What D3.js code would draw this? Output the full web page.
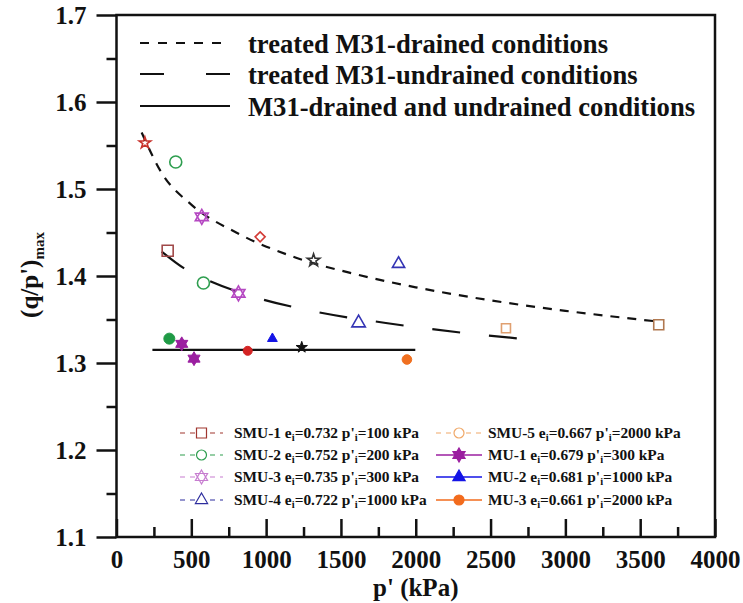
<!DOCTYPE html>
<html>
<head>
<meta charset="utf-8">
<script src="https://cdn.jsdelivr.net/npm/d3@7"></script>
<style>
  body { margin: 0; background: #fff; }
  svg text { font-family: "Liberation Serif", "Times New Roman", serif; font-weight: bold; fill: #111; }
</style>
</head>
<body>
<div id="chart"></div>
<script>
// values
var xTicks = [0, 500, 1000, 1500, 2000, 2500, 3000, 3500, 4000];
var yTicks = [1.1, 1.2, 1.3, 1.4, 1.5, 1.6, 1.7];

// treated M31 drained points
var drainedP = [190, 396, 570, 960, 1317, 1885, 3624];
var drainedQ = [1.553, 1.531, 1.468, 1.445, 1.418, 1.414, 1.344];
// treated M31 undrained points
var undrainedP = [342, 581, 815, 1618, 2603];
var undrainedQ = [1.429, 1.392, 1.380, 1.346, 1.340];
// untreated M31 points
var muP = [353, 436, 518, 877, 1042, 1238, 1941];
var muQ = [1.328, 1.322, 1.305, 1.314, 1.328, 1.318, 1.304];

// fitted lines
var drainedFitP = [168, 300, 500, 800, 1200, 1600, 2000, 2500, 3000, 3600];
var drainedFitQ = [1.565, 1.519, 1.482, 1.450, 1.421, 1.402, 1.387, 1.372, 1.360, 1.348];
var undrainedFitP = [302, 450, 600, 900, 1300, 1800, 2300, 2700];
var undrainedFitQ = [1.428, 1.409, 1.396, 1.377, 1.360, 1.346, 1.335, 1.328];
var baseFitP = [240, 1997];
var baseFitQ = [1.315, 1.315];

var fitLabels = ["treated M31-drained conditions", "treated M31-undrained conditions", "M31-drained and undrained conditions"];

var seriesNames = ["SMU-1", "SMU-2", "SMU-3", "SMU-4", "SMU-5", "MU-1", "MU-2", "MU-3"];
var seriesE = ["0.732", "0.752", "0.735", "0.722", "0.667", "0.679", "0.681", "0.661"];
var seriesPi = ["100", "200", "300", "1000", "2000", "300", "1000", "2000"];

// marker styles (kept apart from the values)
var drainedMarks = [
  { s: "star", c: "#c8322c", r: 5, fill: false },
  { s: "circle", c: "#2e9e4f", r: 6, fill: false },
  { s: "hex", c: "#b548c2", r: 7.5, fill: false },
  { s: "diamond", c: "#d33b36", r: 5, fill: false },
  { s: "star", c: "#333", r: 5.5, fill: false },
  { s: "triangle", c: "#3434b4", r: 5, fill: false },
  { s: "square", c: "#b07850", r: 5, fill: false }
];
var undrainedMarks = [
  { s: "square", c: "#a04848", r: 5.5, fill: false },
  { s: "circle", c: "#2e9e4f", r: 6, fill: false },
  { s: "hex", c: "#b548c2", r: 7.5, fill: false },
  { s: "triangle", c: "#3434b4", r: 5.5, fill: false },
  { s: "square", c: "#e0a070", r: 4.5, fill: false }
];
var muMarks = [
  { s: "circle", c: "#1f9a45", r: 5.5, fill: true },
  { s: "hex", c: "#9b1fa0", r: 7, fill: true },
  { s: "hex", c: "#9b1fa0", r: 7, fill: true },
  { s: "circle", c: "#d42424", r: 4.5, fill: true },
  { s: "triangle", c: "#1414e6", r: 4, fill: true },
  { s: "star", c: "#111", r: 5, fill: true },
  { s: "circle", c: "#f07020", r: 4.8, fill: true }
];
var legendMarks = [
  { s: "square", c: "#a0362f", dash: true, fill: false },
  { s: "circle", c: "#2e9e4f", dash: true, fill: false },
  { s: "hex", c: "#c77dd0", dash: true, fill: false },
  { s: "triangle", c: "#2d2d9e", dash: true, fill: false },
  { s: "circle", c: "#f0a868", dash: true, fill: false },
  { s: "hex", c: "#9b1fa0", dash: false, fill: true },
  { s: "triangle", c: "#1414e6", dash: false, fill: true },
  { s: "circle", c: "#f26b1d", dash: false, fill: true }
];

var svgWidth = 743, svgHeight = 603;
var plot = { left: 116.5, right: 715, top: 15, bottom: 537 };

var svg = d3.select("#chart").append("svg")
  .attr("width", svgWidth)
  .attr("height", svgHeight);

var xScale = d3.scaleLinear().domain([0, 4000]).range([plot.left, plot.right]);
var yScale = d3.scaleLinear().domain([1.1, 1.7]).range([plot.bottom, plot.top]);

// minor ticks
svg.append("g")
  .attr("transform", "translate(0," + plot.bottom + ")")
  .call(d3.axisBottom(xScale).tickValues(d3.range(250, 4000, 500)).tickSize(-10).tickFormat(""))
  .call(function(g) { g.select(".domain").remove(); g.selectAll("line").attr("stroke", "#111").attr("stroke-width", 2.5); });
svg.append("g")
  .attr("transform", "translate(" + plot.left + ",0)")
  .call(d3.axisLeft(yScale).tickValues([1.15, 1.25, 1.35, 1.45, 1.55, 1.65]).tickSize(10).tickFormat(""))
  .call(function(g) { g.select(".domain").remove(); g.selectAll("line").attr("stroke", "#111").attr("stroke-width", 2.5); });

// major ticks
var xAxisG = svg.append("g")
  .attr("transform", "translate(0," + plot.bottom + ")")
  .call(d3.axisBottom(xScale).tickValues(xTicks).tickSizeInner(-18).tickSizeOuter(0).tickPadding(13).tickFormat(d3.format("d")));
xAxisG.select(".domain").remove();
xAxisG.selectAll("line").attr("stroke", "#111").attr("stroke-width", 2.5);
xAxisG.selectAll("text").attr("font-size", 25).attr("fill", "#111");

var yAxisG = svg.append("g")
  .attr("transform", "translate(" + plot.left + ",0)")
  .call(d3.axisLeft(yScale).tickValues(yTicks).tickSizeInner(20).tickSizeOuter(0).tickPadding(10).tickFormat(d3.format(".1f")));
yAxisG.select(".domain").remove();
yAxisG.selectAll("line").attr("stroke", "#111").attr("stroke-width", 2.5);
yAxisG.selectAll("text").attr("font-size", 25).attr("fill", "#111");
svg.selectAll(".tick text").style("font-family", "Liberation Serif").style("font-weight", "bold");

// frame
svg.append("rect")
  .attr("x", plot.left).attr("y", plot.top)
  .attr("width", plot.right - plot.left).attr("height", plot.bottom - plot.top)
  .attr("fill", "none").attr("stroke", "#111").attr("stroke-width", 2.5);

// axis titles
svg.append("text")
  .attr("x", (plot.left + plot.right) / 2)
  .attr("y", 596)
  .attr("text-anchor", "middle")
  .attr("font-size", 25)
  .text("p' (kPa)");

var yTitle = svg.append("text")
  .attr("transform", "translate(38,275) rotate(-90)")
  .attr("text-anchor", "middle")
  .attr("font-size", 25);
yTitle.append("tspan").text("(q/p')");
yTitle.append("tspan").attr("font-size", 15).attr("dy", 6).text("max");

// fitted lines
var line = d3.line()
  .x(function(d) { return xScale(d[0]); })
  .y(function(d) { return yScale(d[1]); })
  .curve(d3.curveMonotoneX);

svg.append("path")
  .datum(d3.zip(drainedFitP, drainedFitQ))
  .attr("d", line)
  .attr("fill", "none").attr("stroke", "#111").attr("stroke-width", 2.2)
  .attr("stroke-dasharray", "9,8");
svg.append("path")
  .datum(d3.zip(undrainedFitP, undrainedFitQ))
  .attr("d", line)
  .attr("fill", "none").attr("stroke", "#111").attr("stroke-width", 2.2)
  .attr("stroke-dasharray", "28,29");
svg.append("path")
  .datum(d3.zip(baseFitP, baseFitQ))
  .attr("d", line)
  .attr("fill", "none").attr("stroke", "#111").attr("stroke-width", 2.2);

// marker shapes
var hexagram = {
  draw: function(ctx, size) {
    var r = Math.sqrt(size);
    for (var k = 0; k < 2; k++) {
      for (var i = 0; i < 3; i++) {
        var a = -Math.PI / 2 + k * Math.PI + i * 2 * Math.PI / 3;
        if (i === 0) ctx.moveTo(r * Math.cos(a), r * Math.sin(a));
        else ctx.lineTo(r * Math.cos(a), r * Math.sin(a));
      }
      ctx.closePath();
    }
  }
};
var diamond = {
  draw: function(ctx, size) {
    var r = Math.sqrt(size);
    ctx.moveTo(0, -r); ctx.lineTo(r, 0); ctx.lineTo(0, r); ctx.lineTo(-r, 0);
    ctx.closePath();
  }
};

function symbolPath(m, r) {
  var type, size;
  if (m.s === "circle") { type = d3.symbolCircle; size = Math.PI * r * r; }
  else if (m.s === "square") { type = d3.symbolSquare; size = 4 * r * r; }
  else if (m.s === "triangle") { type = d3.symbolTriangle; size = r * r * 2.6; }
  else if (m.s === "diamond") { type = diamond; size = r * r; }
  else if (m.s === "star") { type = d3.symbolStar; size = r * r * 1.6; }
  else { type = hexagram; size = r * r; }
  return d3.symbol().type(type).size(size)();
}

function drawPoints(ps, qs, marks) {
  svg.append("g").selectAll("path")
    .data(d3.zip(ps, qs, marks))
    .enter().append("path")
    .attr("transform", function(d) { return "translate(" + xScale(d[0]) + "," + yScale(d[1]) + ")"; })
    .attr("d", function(d) { return symbolPath(d[2], d[2].r); })
    .attr("fill", function(d) { return d[2].fill ? d[2].c : "#fff"; })
    .attr("fill-opacity", function(d) { return d[2].fill ? 1 : 0; })
    .attr("stroke", function(d) { return d[2].c; })
    .attr("stroke-width", function(d) { return d[2].fill ? 1 : 1.6; });
}
drawPoints(drainedP, drainedQ, drainedMarks);
drawPoints(undrainedP, undrainedQ, undrainedMarks);
drawPoints(muP, muQ, muMarks);

// top legend
var fitRowY = [43, 74, 106];
var fitSampleDash = ["9,9", "24,42", null];
fitLabels.forEach(function(lbl, i) {
  svg.append("line")
    .attr("x1", 140).attr("x2", 230)
    .attr("y1", fitRowY[i]).attr("y2", fitRowY[i])
    .attr("stroke", "#111").attr("stroke-width", 2.2)
    .attr("stroke-dasharray", fitSampleDash[i]);
  svg.append("text")
    .attr("x", 248).attr("y", fitRowY[i] + 10)
    .attr("font-size", 26.6)
    .text(lbl);
});

// bottom legend
var legRowY = [433, 455, 477, 500];
seriesNames.forEach(function(name, i) {
  var col = i < 4 ? 0 : 1;
  var row = i % 4;
  var x0 = col === 0 ? 180 : 436;
  var x1 = col === 0 ? 223 : 482;
  var mx = (x0 + x1) / 2;
  var y = legRowY[row];
  var m = legendMarks[i];
  svg.append("line")
    .attr("x1", x0).attr("x2", x1).attr("y1", y).attr("y2", y)
    .attr("stroke", m.c).attr("stroke-width", m.dash ? 1.2 : 1.5)
    .attr("stroke-dasharray", m.dash ? "5,5" : null);
  svg.append("path")
    .attr("transform", "translate(" + mx + "," + y + ")")
    .attr("d", symbolPath(m, m.s === "hex" ? 7 : 5))
    .attr("fill", m.fill ? m.c : "#fff")
    .attr("stroke", m.c).attr("stroke-width", 1.2);
  var t = svg.append("text")
    .attr("x", col === 0 ? 234 : 488).attr("y", y + 5)
    .attr("font-size", 15.4);
  t.append("tspan").text(name + " e");
  t.append("tspan").attr("font-size", 10.5).attr("dy", 3).text("i");
  t.append("tspan").attr("dy", -3).text("=" + seriesE[i] + " p'");
  t.append("tspan").attr("font-size", 10.5).attr("dy", 3).text("i");
  t.append("tspan").attr("dy", -3).text("=" + seriesPi[i] + " kPa");
});
</script>
</body>
</html>
